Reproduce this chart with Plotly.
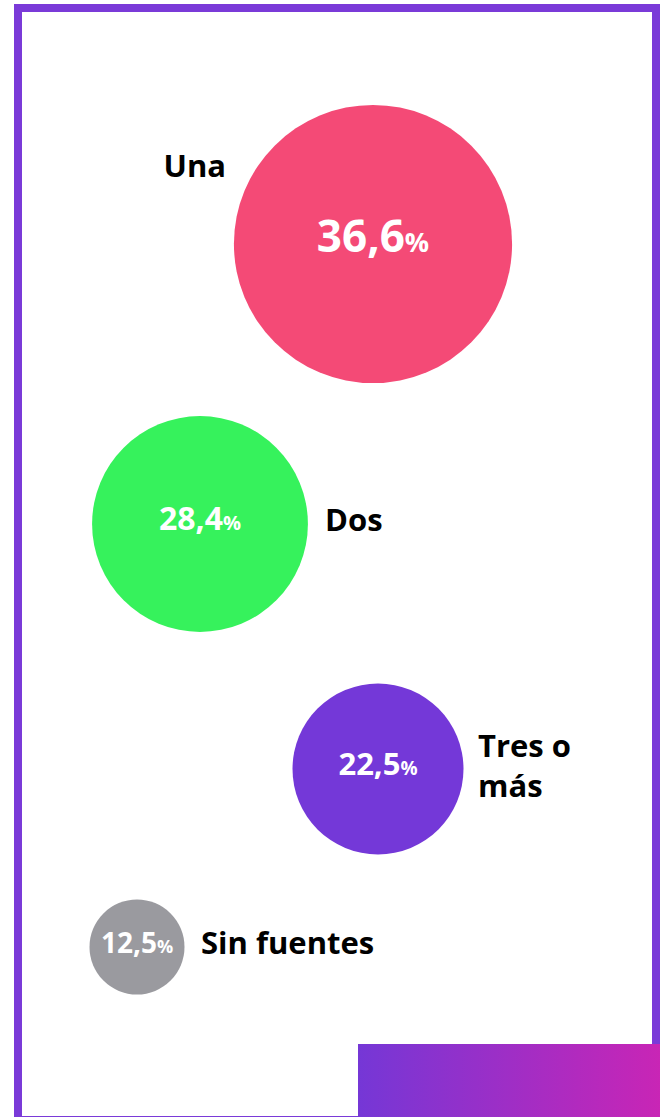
import plotly.graph_objects as go

# ---- data ----
categories = ["Una", "Dos", "Tres o<br>más", "Sin fuentes"]
values = [36.6, 28.4, 22.5, 12.5]
colors = ["#F44A76", "#36F25C", "#7438D8", "#9A9A9F"]

# ---- layout (page pixel positions) ----
W, H = 660, 1117
cx = [373, 200, 378, 137]
cy = [244, 524, 769, 947]
px_per_unit = 7.6  # bubble diameter per percentage point
val_font = [44, 32, 31, 28]
pct_font = [27, 20, 19, 18]
val_dy = [-3, -2, -2, -1]
lab_x = [226, 325, 478, 201]
lab_y = [169, 523, 769, 946]
lab_pos = ["middle left", "middle right", "middle right", "middle right"]
lab_font = 31
FONT = "Open Sans, Poppins, sans-serif"

fig = go.Figure()

# bubbles
fig.add_trace(go.Scatter(
    x=cx, y=cy, mode="markers",
    marker=dict(size=[v * px_per_unit for v in values], sizemode="diameter",
                color=colors, line=dict(width=0), opacity=1),
    hoverinfo="skip", showlegend=False, cliponaxis=False))

# value labels
def fmt(v, pf):
    s = f"{v:.1f}".replace(".", ",")
    return f"<b>{s}<span style='font-size:{pf}px'>%</span></b>"

for i, v in enumerate(values):
    fig.add_trace(go.Scatter(
        x=[cx[i]], y=[cy[i] + val_dy[i]], mode="text",
        text=[fmt(v, pct_font[i])], textposition="middle center",
        textfont=dict(family=FONT, size=val_font[i], color="white"),
        hoverinfo="skip", showlegend=False, cliponaxis=False))

# category labels
for i, lab in enumerate(categories):
    fig.add_trace(go.Scatter(
        x=[lab_x[i]], y=[lab_y[i]], mode="text",
        text=[f"<b>{lab}</b>"], textposition=lab_pos[i],
        textfont=dict(family=FONT, size=lab_font, color="black"),
        hoverinfo="skip", showlegend=False, cliponaxis=False))

# gradient block bottom-right
fig.add_trace(go.Scatter(
    x=[358, 662, 662, 358, 358], y=[1044, 1044, 1119, 1119, 1044],
    mode="lines", fill="toself", line=dict(width=0),
    fillgradient=dict(type="horizontal", colorscale=[[0, "#7537D6"], [1, "#C925B5"]]),
    hoverinfo="skip", showlegend=False, cliponaxis=False))

# frame
fig.add_shape(type="rect", xref="x", yref="y", x0=18, x1=656, y0=8, y1=1120,
              line=dict(color="#7A3AD8", width=8), fillcolor="rgba(0,0,0,0)", layer="below")

fig.update_layout(
    width=W, height=H, margin=dict(l=0, r=0, t=0, b=0),
    paper_bgcolor="white", plot_bgcolor="white",
    xaxis=dict(range=[0, W], visible=False, fixedrange=True),
    yaxis=dict(range=[H, 0], visible=False, fixedrange=True),
    showlegend=False,
)

fig.write_html(
    "out.html",
    config={"displayModeBar": False},
    post_script="document.body.style.margin='0';document.body.style.overflow='hidden';",
)
